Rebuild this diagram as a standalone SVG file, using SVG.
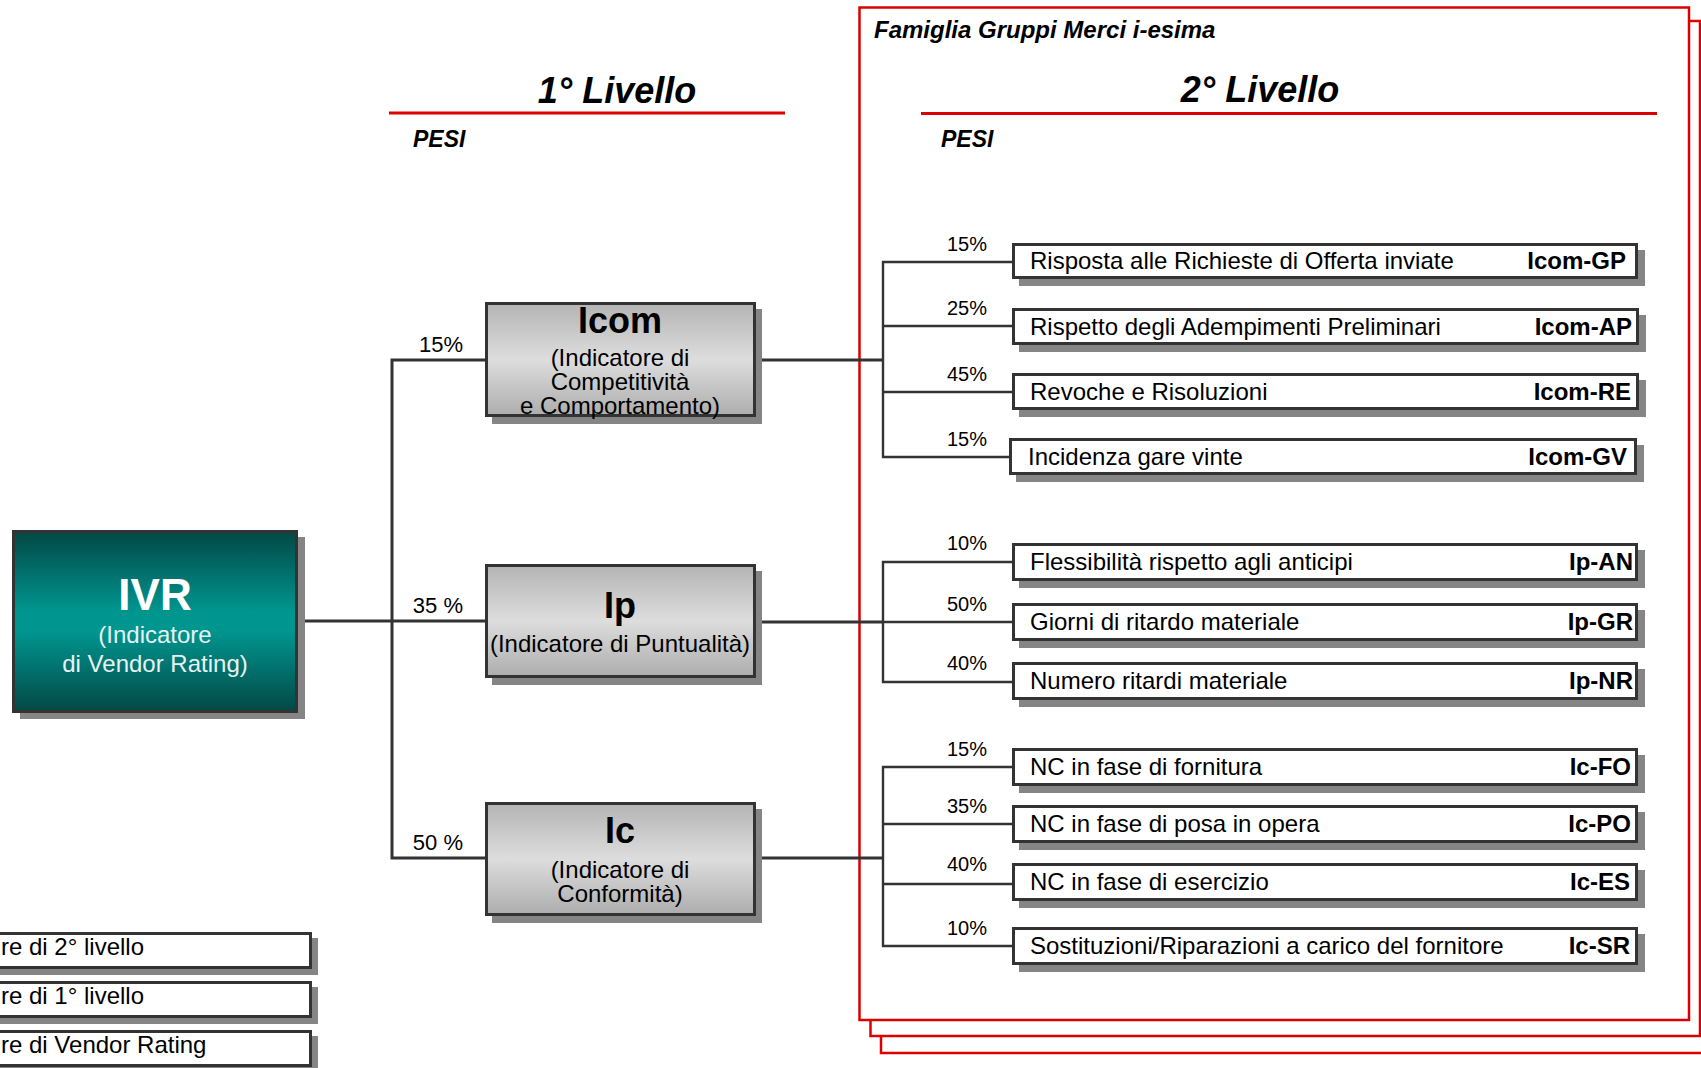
<svg xmlns="http://www.w3.org/2000/svg" width="1701" height="1068" viewBox="0 0 1701 1068">
<defs>
<linearGradient id="gTeal" x1="0" y1="0" x2="0" y2="1">
<stop offset="0" stop-color="#034845"/>
<stop offset="0.45" stop-color="#009690"/>
<stop offset="0.55" stop-color="#009690"/>
<stop offset="1" stop-color="#034845"/>
</linearGradient>
<linearGradient id="gGray" x1="0" y1="0" x2="0" y2="1">
<stop offset="0" stop-color="#b4b4b4"/>
<stop offset="0.5" stop-color="#dddddd"/>
<stop offset="1" stop-color="#adadad"/>
</linearGradient>
</defs>
<style>
text{font-family:"Liberation Sans",Arial,sans-serif;fill:#000}
.frame{fill:#fff;stroke:#dc0000;stroke-width:2.5}
.hline{stroke:#dc0000;stroke-width:3}
.hdr{font-size:36px;font-weight:bold;font-style:italic;text-anchor:middle}
.pesi{font-size:23px;font-weight:bold;font-style:italic}
.fam{font-size:24px;font-weight:bold;font-style:italic}
.shadow{fill:#858585}
.leaf{fill:#fff;stroke:#333;stroke-width:3}
.l1{fill:url(#gGray);stroke:#333;stroke-width:3}
.ivr{fill:url(#gTeal);stroke:#333;stroke-width:3}
.t24{font-size:24px}
.code{font-size:24px;font-weight:bold;text-anchor:end}
.pct{font-size:20px;text-anchor:end}
.pct1{font-size:22px;text-anchor:end}
.title1{font-size:36px;font-weight:bold;text-anchor:middle}
.sub1{font-size:24px;text-anchor:middle}
.trunk{fill:none;stroke:#333;stroke-width:3}
.branch{fill:none;stroke:#333;stroke-width:2.4}
</style>

<g id="frames">
<rect class="frame" x="881" y="37" width="840" height="1016"/>
<rect class="frame" x="870.5" y="21" width="829.5" height="1015"/>
<rect class="frame" x="859.5" y="7.5" width="829.5" height="1012.5"/>
</g>

<g id="headers">
<text class="hdr" x="617" y="103">1° Livello</text>
<line class="hline" x1="389" y1="113" x2="785" y2="113"/>
<text class="pesi" x="413" y="147">PESI</text>
<text class="fam" x="874" y="38">Famiglia Gruppi Merci i-esima</text>
<text class="hdr" x="1260" y="102">2° Livello</text>
<line class="hline" x1="921" y1="113.5" x2="1657" y2="113.5"/>
<text class="pesi" x="941" y="147">PESI</text>
</g>

<g id="connectors">
<path class="trunk" d="M298 621 H485"/>
<path class="trunk" d="M485 360 H392 V858 H485"/>
<path class="trunk" d="M756 360 H883"/>
<path class="trunk" d="M756 622 H883"/>
<path class="trunk" d="M756 858 H883"/>
<path class="branch" d="M1012 262 H883 V457 H1009 M883 326 H1012 M883 392 H1012"/>
<path class="branch" d="M1012 562 H883 V682 H1012 M883 622 H1012"/>
<path class="branch" d="M1012 767 H883 V946 H1012 M883 824 H1012 M883 884 H1012"/>
<text class="pct1" x="463" y="352">15%</text>
<text class="pct1" x="463" y="613">35 %</text>
<text class="pct1" x="463" y="850">50 %</text>
<text class="pct" x="987" y="251">15%</text>
<text class="pct" x="987" y="315">25%</text>
<text class="pct" x="987" y="381">45%</text>
<text class="pct" x="987" y="446">15%</text>
<text class="pct" x="987" y="550">10%</text>
<text class="pct" x="987" y="611">50%</text>
<text class="pct" x="987" y="670">40%</text>
<text class="pct" x="987" y="756">15%</text>
<text class="pct" x="987" y="813">35%</text>
<text class="pct" x="987" y="871">40%</text>
<text class="pct" x="987" y="935">10%</text>
</g>

<g id="IVR">
<rect class="shadow" x="20" y="537" width="285" height="182"/>
<rect class="ivr" x="13.5" y="531.5" width="283" height="180"/>
<text x="155" y="610" style="font-size:44px;font-weight:bold;fill:#fff;text-anchor:middle">IVR</text>
<text x="155" y="643" style="font-size:24px;fill:#e6f3f3;text-anchor:middle">(Indicatore</text>
<text x="155" y="672" style="font-size:24px;fill:#e6f3f3;text-anchor:middle">di Vendor Rating)</text>
</g>

<g id="Icom">
<rect class="shadow" x="492" y="309" width="270" height="115"/>
<rect class="l1" x="486.5" y="303.5" width="268" height="112"/>
<text class="title1" x="620" y="333">Icom</text>
<text class="sub1" x="620" y="366">(Indicatore di</text>
<text class="sub1" x="620" y="390">Competitività</text>
<text class="sub1" x="620" y="414">e Comportamento)</text>
</g>

<g id="Ip">
<rect class="shadow" x="492" y="571" width="270" height="114"/>
<rect class="l1" x="486.5" y="565.5" width="268" height="111"/>
<text class="title1" x="620" y="618">Ip</text>
<text class="sub1" x="620" y="652">(Indicatore di Puntualità)</text>
</g>

<g id="Ic">
<rect class="shadow" x="492" y="809" width="270" height="114"/>
<rect class="l1" x="486.5" y="803.5" width="268" height="111"/>
<text class="title1" x="620" y="843">Ic</text>
<text class="sub1" x="620" y="878">(Indicatore di</text>
<text class="sub1" x="620" y="902">Conformità)</text>
</g>

<g id="Icom-GP">
<rect class="shadow" x="1019" y="250" width="626" height="36"/>
<rect class="leaf" x="1013.5" y="244.5" width="623" height="33"/>
<text class="t24" x="1030" y="269">Risposta alle Richieste di Offerta inviate</text>
<text class="code" x="1626" y="269">Icom-GP</text>
</g>
<g id="Icom-AP">
<rect class="shadow" x="1019" y="315" width="627" height="37"/>
<rect class="leaf" x="1013.5" y="309.5" width="624" height="34"/>
<text class="t24" x="1030" y="335">Rispetto degli Adempimenti Preliminari</text>
<text class="code" x="1632" y="335">Icom-AP</text>
</g>
<g id="Icom-RE">
<rect class="shadow" x="1019" y="380" width="627" height="37"/>
<rect class="leaf" x="1013.5" y="374.5" width="624" height="34"/>
<text class="t24" x="1030" y="400">Revoche e Risoluzioni</text>
<text class="code" x="1631" y="400">Icom-RE</text>
</g>
<g id="Icom-GV">
<rect class="shadow" x="1016" y="445" width="628" height="37"/>
<rect class="leaf" x="1010.5" y="439.5" width="625" height="34"/>
<text class="t24" x="1028" y="465">Incidenza gare vinte</text>
<text class="code" x="1627" y="465">Icom-GV</text>
</g>

<g id="Ip-AN">
<rect class="shadow" x="1019" y="550" width="626" height="38"/>
<rect class="leaf" x="1013.5" y="544.5" width="623" height="35"/>
<text class="t24" x="1030" y="570">Flessibilità rispetto agli anticipi</text>
<text class="code" x="1633" y="570">Ip-AN</text>
</g>
<g id="Ip-GR">
<rect class="shadow" x="1019" y="610" width="626" height="38"/>
<rect class="leaf" x="1013.5" y="604.5" width="623" height="35"/>
<text class="t24" x="1030" y="630">Giorni di ritardo materiale</text>
<text class="code" x="1633" y="630">Ip-GR</text>
</g>
<g id="Ip-NR">
<rect class="shadow" x="1019" y="669" width="626" height="38"/>
<rect class="leaf" x="1013.5" y="663.5" width="623" height="35"/>
<text class="t24" x="1030" y="689">Numero ritardi materiale</text>
<text class="code" x="1633" y="689">Ip-NR</text>
</g>

<g id="Ic-FO">
<rect class="shadow" x="1019" y="755" width="626" height="38"/>
<rect class="leaf" x="1013.5" y="749.5" width="623" height="35"/>
<text class="t24" x="1030" y="775">NC in fase di fornitura</text>
<text class="code" x="1631" y="775">Ic-FO</text>
</g>
<g id="Ic-PO">
<rect class="shadow" x="1019" y="812" width="626" height="38"/>
<rect class="leaf" x="1013.5" y="806.5" width="623" height="35"/>
<text class="t24" x="1030" y="832">NC in fase di posa in opera</text>
<text class="code" x="1631" y="832">Ic-PO</text>
</g>
<g id="Ic-ES">
<rect class="shadow" x="1019" y="870" width="626" height="38"/>
<rect class="leaf" x="1013.5" y="864.5" width="623" height="35"/>
<text class="t24" x="1030" y="890">NC in fase di esercizio</text>
<text class="code" x="1630" y="890">Ic-ES</text>
</g>
<g id="Ic-SR">
<rect class="shadow" x="1019" y="934" width="626" height="38"/>
<rect class="leaf" x="1013.5" y="928.5" width="623" height="35"/>
<text class="t24" x="1030" y="954">Sostituzioni/Riparazioni a carico del fornitore</text>
<text class="code" x="1630" y="954">Ic-SR</text>
</g>

<g id="legend">
<rect class="shadow" x="-14" y="938" width="332" height="37"/>
<rect class="leaf" x="-20" y="933.5" width="330.5" height="34"/>
<text class="t24" x="1" y="955">re di 2° livello</text>
<rect class="shadow" x="-14" y="987" width="332" height="37"/>
<rect class="leaf" x="-20" y="982.5" width="330.5" height="34"/>
<text class="t24" x="1" y="1004">re di 1° livello</text>
<rect class="shadow" x="-14" y="1036" width="332" height="37"/>
<rect class="leaf" x="-20" y="1031.5" width="330.5" height="34"/>
<text class="t24" x="1" y="1053">re di Vendor Rating</text>
</g>
</svg>
